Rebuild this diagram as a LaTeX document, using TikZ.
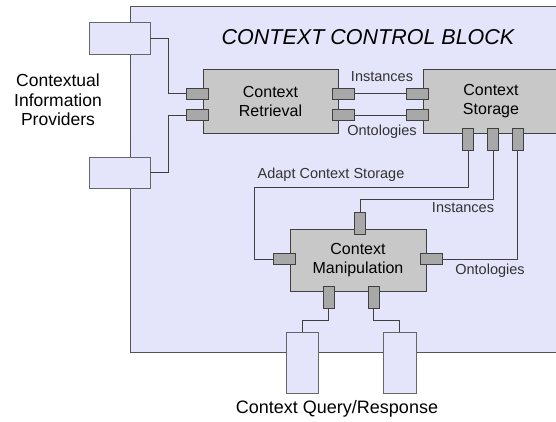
\documentclass[tikz,border=0pt]{standalone}
\usepackage{fontspec}
\setmainfont{Liberation Sans}
\usetikzlibrary{positioning}

\definecolor{blockbg}{HTML}{E4E4FA}
\definecolor{boxgray}{HTML}{C8C8C8}
\definecolor{portgray}{HTML}{A8A8A8}
\definecolor{linegray}{HTML}{404040}

\tikzset{
  unit/.style={draw=linegray, fill=boxgray, line width=.8pt, align=center,
    minimum width=135pt, minimum height=64pt, font=\fontsize{16}{19}\selectfont},
  hport/.style={draw=linegray, fill=portgray, line width=.7pt,
    minimum width=22pt, minimum height=11pt, inner sep=0pt},
  vport/.style={hport, minimum width=11pt, minimum height=22pt},
  ext/.style={draw=linegray!80, fill=blockbg, line width=.7pt, inner sep=0pt},
  lbl/.style={font=\fontsize{14.5}{17}\selectfont, text=black!80},
  wire/.style={draw=linegray, line width=.7pt}
}

\begin{document}
\begin{tikzpicture}[x=1pt,y=-1pt]

      \useasboundingbox (0,0) rectangle (556,422);
      \fill[white] (0,0) rectangle (556,422);

      % control block
      \draw[draw=linegray!90, fill=blockbg, line width=.8pt] (130,6) rectangle (562,352);
      \node[font=\fontsize{21.5}{25}\selectfont\itshape] (title) at (368,37) {CONTEXT CONTROL BLOCK};

      % providers and query/response
      \begin{scope}[every node/.style={ext}]
        \node[minimum width=61pt, minimum height=32pt] (prov1) at (119.5,38) {};
        \node[minimum width=61pt, minimum height=31pt] (prov2) at (119.5,172.5) {};
        \node[minimum width=32pt, minimum height=61pt] (q1) at (302,362.5) {};
        \node[minimum width=33pt, minimum height=61pt] (q2) at (399.5,362.5) {};
      \end{scope}

      % units
      \node[unit] (retr) at (270.5,101) {Context\\Retrieval};
      \node[unit, minimum width=136pt] (stor) at (491,101) {Context\\Storage};
      \node[unit, minimum width=136pt, minimum height=62pt] (mani) at (358,260) {Context\\Manipulation};

      % ports
      \begin{scope}[every node/.style={hport}]
        \node (rl1) at (197,93.5)  {};
        \node (rl2) at (197,115)   {};
        \node (rr1) at (343,93.5)  {};
        \node (rr2) at (343,115)   {};
        \node (sl1) at (417,93.5)  {};
        \node (sl2) at (417,115)   {};
        \node (ml)  at (284,259)   {};
        \node (mr)  at (431,259)   {};
      \end{scope}
      \begin{scope}[every node/.style={vport}]
        \node (sb1) at (468,139)   {};
        \node (sb2) at (493,139)   {};
        \node (sb3) at (517.5,139) {};
        \node (mt)  at (360,223)   {};
        \node (mb1) at (328.5,297.5) {};
        \node (mb2) at (373.5,297.5) {};
      \end{scope}

      % wires
      \begin{scope}[every path/.style={wire}]
        \path (prov1.east) -- ++(18,0) |- (rl1.west);
        \path (prov2.east) -- ++(18,0) |- (rl2.west);
        \path (rr1.east) -- (sl1.west);
        \path (rr2.east) -- (sl2.west);
        \path (sb1.south) -- ++(0,37) -| ([xshift=-18pt]ml.west) -- (ml.west);
        \path (sb2.south) -- ++(0,49) -| (mt.north);
        \path (sb3.south) |- (mr.east);
        \path (mb1.south) -- ++(0,11) -| (q1.north);
        \path (mb2.south) -- ++(0,11) -| (q2.north);
      \end{scope}

      % labels
      \begin{scope}[every node/.style={lbl}]
        \node (linst)  at (382,77)  {Instances};
        \node (lonto)  at (382,132) {Ontologies};
        \node (ladapt) at (331,175) {Adapt Context Storage};
        \node (linst2) at (463,208) {Instances};
        \node (lonto2) at (490,271) {Ontologies};
      \end{scope}

      \node[align=center, font=\fontsize{17.5}{19.5}\selectfont] (cip) at (58,100) {Contextual\\Information\\Providers};
      \node[font=\fontsize{18}{21}\selectfont] (cqr) at (337,409) {Context Query/Response};

    \end{tikzpicture}
\end{document}
